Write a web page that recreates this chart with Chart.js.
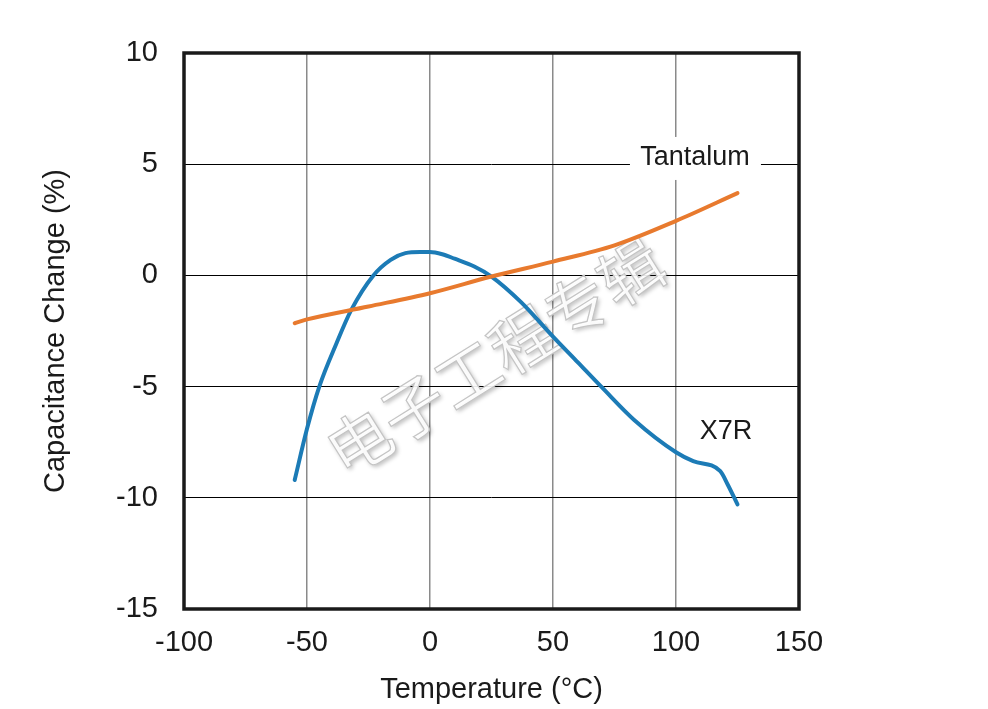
<!DOCTYPE html>
<html>
<head>
<meta charset="utf-8">
<script src="https://cdn.jsdelivr.net/npm/chart.js@4.4.0/dist/chart.umd.min.js"></script>
<style>
  html, body { margin: 0; padding: 0; background: #fff; }
  #wrap { width: 988px; height: 709px; }
</style>
</head>
<body>
<div id="wrap"><canvas id="canvas"></canvas></div>
<script>
"use strict";

// values
const x7rTemp = [-55, -50, -45, -38, -32, -23, -16, -10, -4, 0, 5, 10, 18, 25, 37, 50, 60, 70, 83, 100, 107, 118, 121, 125];
const x7rChange = [-9.2, -6.9, -5.0, -3.05, -1.55, 0, 0.7, 1.0, 1.05, 1.05, 0.95, 0.75, 0.4, -0.05, -1.2, -2.75, -3.9, -5.05, -6.5, -7.95, -8.35, -8.8, -9.4, -10.3];
const tantalumTemp = [-55, -50, -25, 0, 25, 50, 75, 100, 125];
const tantalumChange = [-2.15, -1.98, -1.4, -0.8, -0.05, 0.62, 1.35, 2.45, 3.7];
const xTicks = [-100, -50, 0, 50, 100, 150];
const yTicks = [-15, -10, -5, 0, 5, 10];

const FONT = "'Liberation Sans', Arial, sans-serif";

function toPoints(xs, ys) {
  return xs.map((x, i) => ({ x: x, y: ys[i] }));
}

// frame, curve labels and the watermark
const decorPlugin = {
  id: "decor",
  beforeDatasetsDraw(chart) {
    const ctx = chart.ctx;
    ctx.save();
    ctx.translate(495, 357);
    ctx.rotate(-32 * Math.PI / 180);
    ctx.font = "64px 'Noto Sans CJK SC'";
    ctx.textAlign = "center";
    ctx.textBaseline = "middle";
    ctx.shadowColor = "rgba(0,0,0,0.3)";
    ctx.shadowBlur = 4;
    ctx.shadowOffsetX = 2;
    ctx.shadowOffsetY = 2;
    ctx.fillStyle = "rgba(255,255,255,0.9)";
    ctx.fillText("电子工程专辑", 0, 0);
    ctx.shadowColor = "transparent";
    ctx.lineWidth = 1.2;
    ctx.strokeStyle = "#c4c4c4";
    ctx.strokeText("电子工程专辑", 0, 0);
    ctx.restore();
  },
  afterDatasetsDraw(chart) {
    const ctx = chart.ctx;
    const xs = chart.scales.x, ys = chart.scales.y;
    ctx.save();
    ctx.font = "27px " + FONT;
    ctx.textAlign = "center";
    ctx.textBaseline = "middle";

    // Tantalum label sits on a white box over the grid
    const tx = xs.getPixelForValue(107.7), ty = ys.getPixelForValue(5.28);
    ctx.fillStyle = "#fff";
    ctx.fillRect(tx - 65, ty - 21, 131, 43);
    ctx.fillStyle = "#1a1a1a";
    ctx.fillText("Tantalum", tx, ty);

    ctx.fillText("X7R", xs.getPixelForValue(120.3), ys.getPixelForValue(-7.04));

    const a = chart.chartArea;
    ctx.lineWidth = 3.5;
    ctx.strokeStyle = "#1a1a1a";
    ctx.strokeRect(a.left, a.top, a.right - a.left, a.bottom - a.top);
    ctx.restore();
  }
};

new Chart(document.getElementById("canvas"), {
  type: "scatter",
  data: {
    datasets: [
      {
        label: "Tantalum",
        data: toPoints(tantalumTemp, tantalumChange),
        showLine: true,
        borderColor: "#e87a2e",
        borderWidth: 4,
        pointRadius: 0,
        cubicInterpolationMode: "monotone",
        borderCapStyle: "round"
      },
      {
        label: "X7R",
        data: toPoints(x7rTemp, x7rChange),
        showLine: true,
        borderColor: "#1c7bb6",
        borderWidth: 4,
        pointRadius: 0,
        cubicInterpolationMode: "monotone",
        borderCapStyle: "round"
      }
    ]
  },
  options: {
    responsive: true,
    maintainAspectRatio: false,
    animation: false,
    layout: { padding: { top: 53, right: 189, left: 0, bottom: 0 } },
    plugins: {
      legend: { display: false },
      tooltip: { enabled: false }
    },
    scales: {
      x: {
        type: "linear",
        min: -100,
        max: 150,
        afterBuildTicks: s => { s.ticks = xTicks.map(v => ({ value: v })); },
        afterFit: s => { s.height = 100; },
        grid: { color: "#8a8a8a", lineWidth: 1.5, drawTicks: false },
        border: { display: false },
        ticks: { font: { family: FONT, size: 29 }, color: "#1a1a1a", padding: 17, maxRotation: 0 },
        title: {
          display: true,
          text: "Temperature (°C)",
          font: { family: FONT, size: 29 },
          color: "#1a1a1a",
          padding: { top: 0, bottom: 2 }
        }
      },
      y: {
        type: "linear",
        min: -15,
        max: 10,
        afterBuildTicks: s => { s.ticks = yTicks.map(v => ({ value: v })); },
        afterFit: s => { s.width = 184; },
        grid: { color: "#000", lineWidth: 1, drawTicks: false },
        border: { display: false },
        ticks: { font: { family: FONT, size: 29 }, color: "#1a1a1a", padding: 26 },
        title: {
          display: true,
          text: "Capacitance Change (%)",
          font: { family: FONT, size: 29 },
          color: "#1a1a1a",
          padding: { top: 39, bottom: 0 }
        }
      }
    }
  },
  plugins: [decorPlugin]
});
</script>
</body>
</html>
